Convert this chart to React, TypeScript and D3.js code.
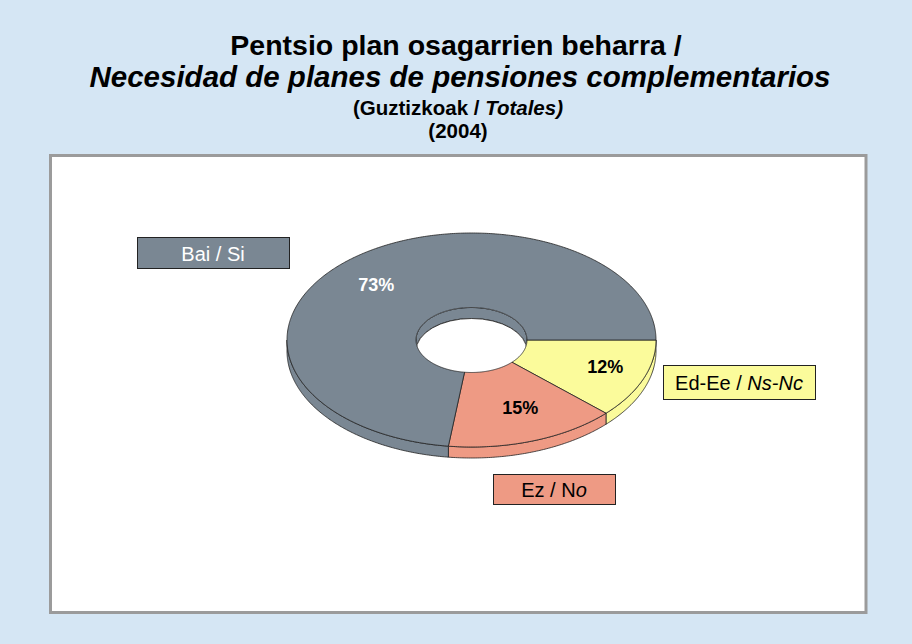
import React from 'react';
import * as d3 from 'd3';

// ---- data ----
const categories = ['Ed-Ee / Ns-Nc', 'Ez / No', 'Bai / Si'];
const values = [12, 15, 73];
const valueLabels = ['12%', '15%', '73%'];
const colors = ['#FBFB9B', '#EE9A84', '#7A8793'];
const labelColors = ['#000000', '#000000', '#FFFFFF'];
const legendTextColors = ['#000000', '#000000', '#FFFFFF'];
// legend label parts: [text, italic]
const legendParts: [string, boolean][][] = [
  [['Ed-Ee / ', false], ['Ns-Nc', true]],
  [['Ez / N', false], ['o', true]],
  [['Bai / Si', false]],
];
const titleLines = [
  'Pentsio plan osagarrien beharra /',
  'Necesidad de planes de pensiones complementarios',
];
const subtitleParts: [string, boolean][] = [['(Guztizkoak / ', false], ['Totales)', true]];
const yearLine = '(2004)';

// ---- layout ----
const W = 912;
const H = 644;
const FONT = '"Liberation Sans", Arial, Helvetica, sans-serif';
const cx = 471.5;
const cy = 340;
const rx = 184.5;
const ry = 107;
const irx = 55.5;
const iry = 32.5;
const depth = 11;
const legendBoxes = [
  { x: 663, y: 365, w: 152, h: 34 },
  { x: 493, y: 474, w: 122, h: 30 },
  { x: 137, y: 237, w: 152, h: 31 },
];

const pt = (a: number, rX: number, rY: number, dy = 0): [number, number] => [
  cx + rX * Math.sin(a),
  cy - rY * Math.cos(a) + dy,
];
const arcPts = (a0: number, a1: number, rX: number, rY: number, dy = 0) => {
  const n = Math.max(2, Math.ceil(Math.abs(a1 - a0) / 0.01) + 1);
  const out: [number, number][] = [];
  for (let i = 0; i < n; i++) {
    const a = a0 + ((a1 - a0) * i) / (n - 1);
    out.push(pt(a, rX, rY, dy));
  }
  return out;
};
const line = d3.line();
const closed = (pts: [number, number][]) => (line(pts) || '') + 'Z';

export default function App() {
  const pie = d3
    .pie<number>()
    .sort(null)
    .startAngle(Math.PI / 2)
    .endAngle(Math.PI / 2 + 2 * Math.PI)(values);

  const sides = pie.map((s, i) => {
    const a0 = Math.max(s.startAngle, Math.PI / 2);
    const a1 = Math.min(s.endAngle, (3 * Math.PI) / 2);
    if (a1 <= a0) return null;
    const pts = [...arcPts(a0, a1, rx, ry), ...arcPts(a1, a0, rx, ry, depth)];
    return <path key={'s' + i} d={closed(pts)} fill={colors[i]} stroke="#222" strokeWidth={0.8} />;
  });

  const walls = pie.map((s, i) => {
    const a0 = Math.max(s.startAngle, (3 * Math.PI) / 2);
    const a1 = Math.min(s.endAngle, (5 * Math.PI) / 2);
    if (a1 <= a0) return null;
    const pts = [...arcPts(a0, a1, irx, iry), ...arcPts(a1, a0, irx, iry, depth)];
    return <path key={'w' + i} d={closed(pts)} fill={colors[i]} stroke="#222" strokeWidth={0.8} />;
  });

  const tops = pie.map((s, i) => {
    const pts = [...arcPts(s.startAngle, s.endAngle, rx, ry), ...arcPts(s.endAngle, s.startAngle, irx, iry)];
    return <path key={'t' + i} d={closed(pts)} fill={colors[i]} stroke="#222" strokeWidth={0.8} strokeLinejoin="round" />;
  });

  const labels = pie.map((s, i) => {
    const mid = (s.startAngle + s.endAngle) / 2;
    const x = cx + 0.78 * rx * Math.sin(mid);
    const y = cy - 0.68 * ry * Math.cos(mid);
    return (
      <text key={'l' + i} x={x} y={y} textAnchor="middle" dominantBaseline="central"
        fontFamily={FONT} fontWeight="bold" fontSize={18} fill={labelColors[i]}>
        {valueLabels[i]}
      </text>
    );
  });

  const legend = categories.map((c, i) => {
    const b = legendBoxes[i];
    return (
      <g key={'g' + i}>
        <rect x={b.x + 0.5} y={b.y + 0.5} width={b.w} height={b.h} fill={colors[i]} stroke="#222" strokeWidth={1} />
        <text x={b.x + b.w / 2} y={b.y + b.h / 2 + 1} textAnchor="middle" dominantBaseline="central"
          fontFamily={FONT} fontSize={20} fill={legendTextColors[i]} aria-label={c}>
          {legendParts[i].map(([t, it], k) => (
            <tspan key={k} fontStyle={it ? 'italic' : 'normal'}>{t}</tspan>
          ))}
        </text>
      </g>
    );
  });

  return (
    <svg width={W} height={H} style={{ position: 'absolute', left: 0, top: 0 }}>
      <rect x={0} y={0} width={W} height={H} fill="#D5E6F4" />
      <text x={456} y={55} textAnchor="middle" fontFamily={FONT} fontWeight="bold" fontSize={28.5} fill="#000">
        {titleLines[0]}
      </text>
      <text x={460} y={87} textAnchor="middle" fontFamily={FONT} fontWeight="bold" fontStyle="italic" fontSize={29.5} fill="#000">
        {titleLines[1]}
      </text>
      <text x={458} y={115} textAnchor="middle" fontFamily={FONT} fontWeight="bold" fontSize={20.5} fill="#000">
        {subtitleParts.map(([t, it], k) => (
          <tspan key={k} fontStyle={it ? 'italic' : 'normal'}>{t}</tspan>
        ))}
      </text>
      <text x={458} y={138} textAnchor="middle" fontFamily={FONT} fontWeight="bold" fontSize={20.5} fill="#000">
        {yearLine}
      </text>
      <rect x={50.5} y={155.5} width={815.5} height={457} fill="#FFFFFF" stroke="#9B9B9B" strokeWidth={3} />
      <defs>
        <clipPath id="holeClip">
          <ellipse cx={cx} cy={cy} rx={irx} ry={iry} />
        </clipPath>
      </defs>
      {sides}
      <g clipPath="url(#holeClip)">
        {walls}
        <ellipse cx={cx} cy={cy + depth} rx={irx} ry={iry} fill="#FFFFFF" stroke="#222" strokeWidth={0.8} />
      </g>
      {tops}
      {labels}
      {legend}
    </svg>
  );
}
